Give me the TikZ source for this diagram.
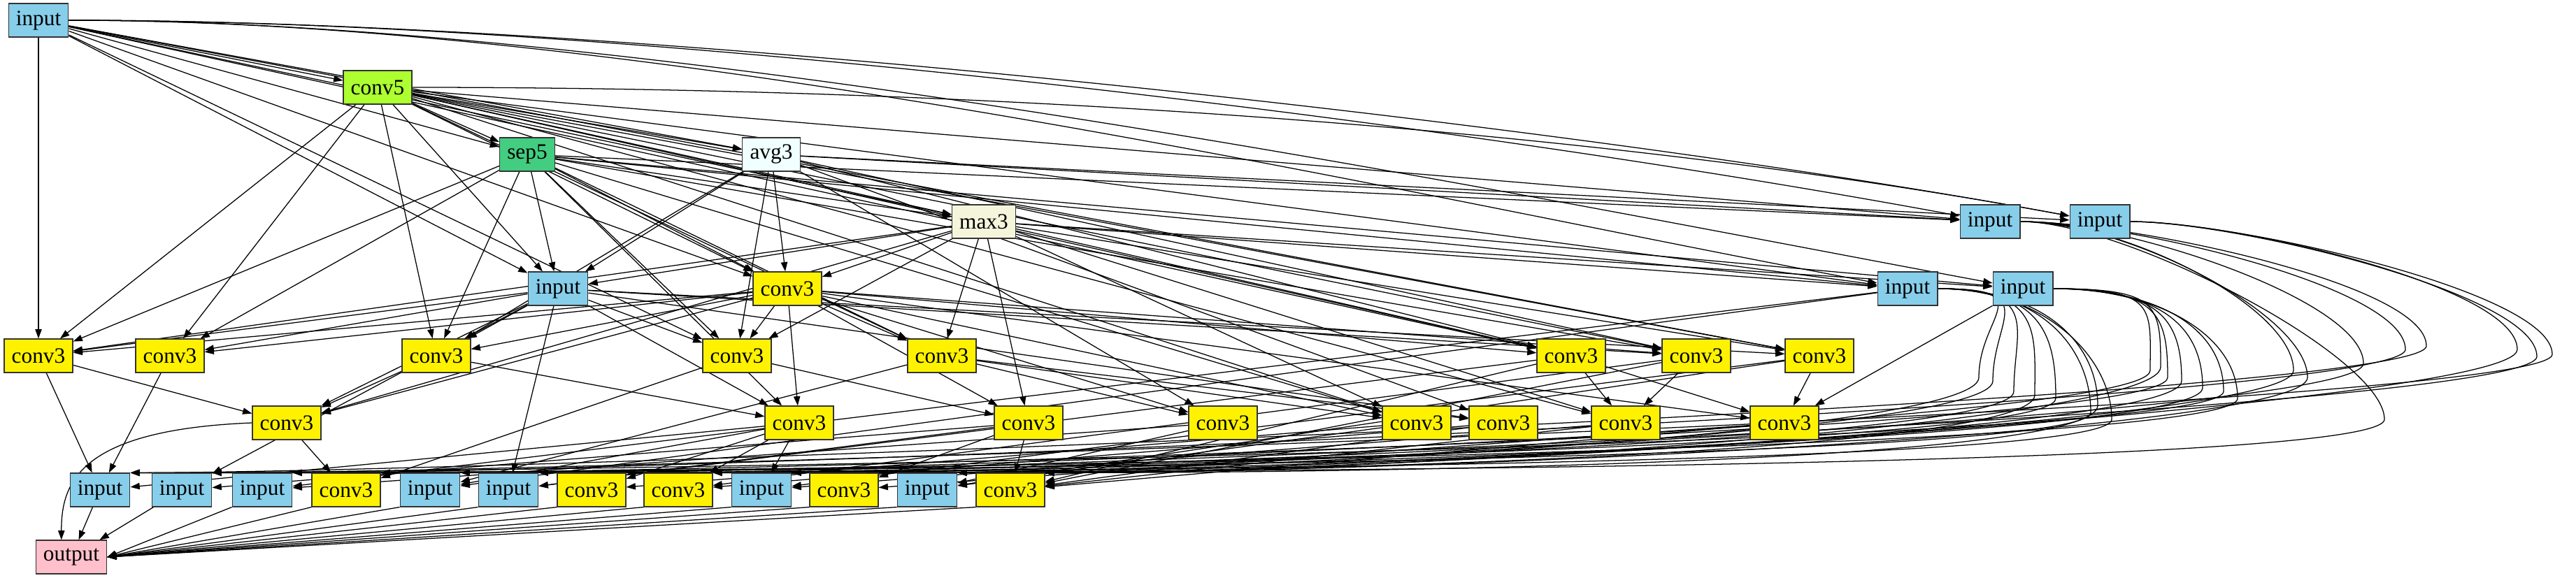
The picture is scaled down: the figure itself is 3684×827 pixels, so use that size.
\documentclass[tikz,border=0pt]{standalone}
\usepackage{fontspec}
\setmainfont{Liberation Serif}
\usepackage{tikz}
\usetikzlibrary{arrows.meta,backgrounds}
\definecolor{inputblue}{HTML}{87CEEB}
\definecolor{convlime}{HTML}{ADFF2F}
\definecolor{sepgreen}{HTML}{43CD80}
\definecolor{avgazure}{HTML}{F0FFFF}
\definecolor{maxbeige}{HTML}{F5F5DC}
\definecolor{outpink}{HTML}{FFC0CB}
\tikzset{%
    opbox/.style={rectangle, draw=black!80, line width=0.9pt, minimum height=36pt,
        inner xsep=8pt, inner ysep=0pt, font=\fontsize{23.5pt}{26pt}\selectfont},
    inputbox/.style={opbox, fill=inputblue},
    convbox/.style={opbox, fill=yellow},
    conv5box/.style={opbox, fill=convlime},
    sepbox/.style={opbox, fill=sepgreen},
    avgbox/.style={opbox, fill=avgazure},
    maxbox/.style={opbox, fill=maxbeige},
    outbox/.style={opbox, fill=outpink},
    flow/.style={-{Triangle[length=10pt,width=7pt]}, line width=0.95pt}
}

\begin{document}
\begin{tikzpicture}[x=0.75pt,y=-0.75pt]
    \useasboundingbox (0,0) rectangle (3684,827);
    % upper ranks
    \node[inputbox] (n0) at (55,29) {input};
    \node[conv5box] (c5) at (540,125) {conv5};
    \node[sepbox] (s5) at (754,221) {sep5};
    \node[avgbox] (a3) at (1103,221) {avg3};
    \node[maxbox] (m3) at (1407,317) {max3};
    \node[inputbox] (i3a) at (2846,317) {input};
    \node[inputbox] (i3b) at (3003,317) {input};
    \node[inputbox] (i4a) at (798,413) {input};
    \node[convbox] (c4) at (1126,413) {conv3};
    \node[inputbox] (i4b) at (2728,413) {input};
    \node[inputbox] (i4c) at (2893,413) {input};
    % conv3 rows
    \foreach \x [count=\k] in {55,243,624,1054,1347,2247,2426,2602}
        \node[convbox] (u\k) at (\x,509) {conv3};
    \foreach \x [count=\k] in {410,1143,1471,1749,2026,2150,2325,2552}
        \node[convbox] (v\k) at (\x,605) {conv3};
    % last rank before output
    \node[inputbox] (w1) at (143,701) {input};
    \node[inputbox] (w2) at (260,701) {input};
    \node[inputbox] (w3) at (375,701) {input};
    \node[convbox] (w4) at (495,701) {conv3};
    \node[inputbox] (w5) at (615,701) {input};
    \node[inputbox] (w6) at (727,701) {input};
    \node[convbox] (w7) at (846,701) {conv3};
    \node[convbox] (w8) at (970,701) {conv3};
    \node[inputbox] (w9) at (1089,701) {input};
    \node[convbox] (w10) at (1207,701) {conv3};
    \node[inputbox] (w11) at (1326,701) {input};
    \node[convbox] (w12) at (1445,701) {conv3};
    \node[outbox] (out) at (102,797) {output};

    \begin{scope}[on background layer]
    \fill[white] (0,0) rectangle (3684,827);
    \foreach \s/\t in {n0/c5,n0/s5,c5/s5,n0/a3,c5/a3,n0/m3,c5/m3,s5/m3,
        c5/i3a,s5/i3a,a3/i3a,a3/i3b,n0/i4a,c5/i4a,s5/i4a,a3/i4a,m3/i4a,
        n0/c4,c5/c4,s5/c4,a3/c4,m3/c4,c5/i4b,s5/i4b,m3/i4b,s5/i4c,m3/i4c}
        \draw[flow] (\s) -- (\t);
    % high arcs from the top input
    \foreach \s/\t in {n0/i3a,n0/i3b,n0/i4b,n0/i4c,c5/i3b}
        \draw[flow] (\s) .. controls +(900,0) and +(-700,-130) .. (\t);
    \foreach \s/\t in {n0/u1,c5/u1,s5/u1,m3/u1,i4a/u1,c4/u1,
        c5/u2,s5/u2,i4a/u2,c4/u2,
        c5/u3,s5/u3,a3/u3,i4a/u3,c4/u3,
        n0/u4,s5/u4,a3/u4,m3/u4,i4a/u4,c4/u4,
        c5/u5,s5/u5,m3/u5,c4/u5,
        n0/u6,c5/u6,a3/u6,m3/u6,c4/u6,
        c5/u7,s5/u7,a3/u7,i4a/u7,c4/u7,
        n0/u8,c5/u8,m3/u8,i4a/u8}
        \draw[flow] (\s) -- (\t);
    \foreach \s/\t in {u1/v1,u3/v1,c4/v1,m3/v1,i4a/v1,
        u3/v2,c4/v2,i4a/v2,s5/v2,
        u4/v3,m3/v3,c4/v3,
        u5/v4,c4/v4,a3/v4,
        u5/v5,m3/v5,s5/v5,c4/v5,c5/v5,
        u5/v6,a3/v6,i4a/v6,
        u6/v7,u7/v7,c5/v7,m3/v7,
        u8/v8,u6/v8,c4/v8,i4c/v8}
        \draw[flow] (\s) -- (\t);
    \foreach \s/\t in {u1/w1,u2/w1,v2/w1,v3/w2,i4a/w2,v4/w3,i4b/w3,
        v1/w4,u4/w4,v2/w5,u5/w5,i4b/w5,v3/w6,i4a/w6,u6/w6,
        v2/w7,v5/w7,v2/w8,v6/w8,u7/w8,v2/w9,v7/w9,u8/w9,
        v3/w10,v8/w10,v4/w11,v5/w11,u8/w11,
        v3/w12,v6/w12,v7/w12,v8/w12,u6/w12,u7/w12}
        \draw[flow] (\s) -- (\t);
    % long edges that swing round the right side
    \foreach \s/\t/\lx/\ly in {i4b/w1/2990/590,i4b/w2/3020/600,i4b/w4/2940/570,
        i4b/w7/2880/560,i4b/w9/2850/545,i4b/w10/2830/540,i4b/w11/2910/565,
        i4b/w12/3000/580,
        i4c/w1/3180/560,i4c/w3/3200/570,i4c/w4/3100/540,i4c/w6/3075/530,
        i4c/w8/3150/555,i4c/w10/3120/545,i4c/w12/3090/525,
        i3a/w1/3470/495,i3a/w3/3440/500,i3a/w5/3410/600,i3a/w8/3380/520,
        i3a/w11/3280/530,i3a/w12/3300/540,
        i3b/w2/3650/507,i3b/w7/3628/510,i3b/w12/3600/500}
        \draw[flow] (\s.east) .. controls +(150,0) and +(0,-90) .. (\lx,\ly)
            .. controls +(0,80) and +(500,0) .. (\t.north east);
    % into the output
    \draw[flow] (w1) -- (out);
    \draw[flow] (w2) -- (out);
    \foreach \s in {w3,w4,w5,w6,w7,w8,w9,w10,w11,w12}
        \draw[flow] (\s.south west) -- (out.east);
    \draw[flow] (v1.west) .. controls +(-250,10) and +(0,-80) .. (out.120);
    \end{scope}
\end{tikzpicture}
\end{document}
